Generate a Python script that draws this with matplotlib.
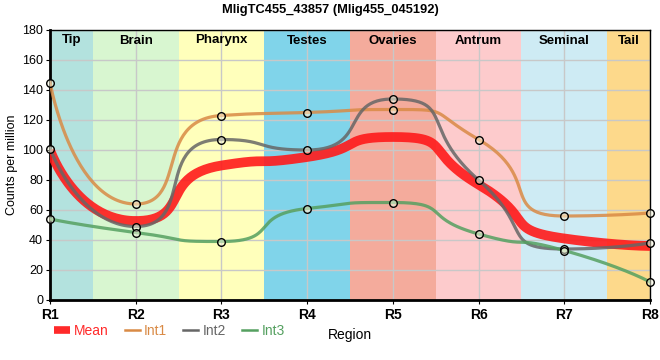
import numpy as np
import matplotlib.pyplot as plt
from matplotlib.lines import Line2D

plt.rcParams['font.family'] = ['Liberation Sans', 'DejaVu Sans']

regions = ["R1", "R2", "R3", "R4", "R5", "R6", "R7", "R8"]
int1 = [145, 64, 123, 125, 127, 107, 56, 58]
int2 = [101, 49, 107, 100, 134, 80, 34, 38]
int3 = [54, 45, 39, 61, 65, 44, 33, 12]
mean = [np.mean(v) for v in zip(int1, int2, int3)]

tissues = ["Tip", "Brain", "Pharynx", "Testes", "Ovaries", "Antrum", "Seminal", "Tail"]
tissue_colors = ["#b3e2de", "#d8f6d0", "#ffffbb", "#80d4ea", "#f4ab9c",
                 "#fdcbcc", "#ceebf4", "#fdd98b"]

# pixels per data unit, so the smoothing works in screen space
XS, YS = 600 / 7, 270 / 180


def smooth_line(xv, yv, smooth=0.68, n=60):
    px = np.asarray(xv, float) * XS
    py = np.asarray(yv, float) * YS
    m = len(px)
    segs = []
    cp0 = (px[0], py[0])
    for i in range(1, m):
        x, y = px[i], py[i]
        prx, pry = px[i - 1], py[i - 1]
        nxt = None
        if i == m - 1:
            cp1 = (x, y)
        else:
            nx, ny = px[i + 1], py[i + 1]
            vx, vy = nx - prx, ny - pry
            lp = np.hypot(x - prx, y - pry)
            ln = np.hypot(nx - x, ny - y)
            r = ln / (ln + lp)
            ncx = x + vx * smooth * r
            ncy = y + vy * smooth * r
            ncx = min(ncx, max(nx, x)); ncy = min(ncy, max(ny, y))
            ncx = max(ncx, min(nx, x)); ncy = max(ncy, min(ny, y))
            vx, vy = ncx - x, ncy - y
            c1x = x - vx * lp / ln
            c1y = y - vy * lp / ln
            c1x = min(c1x, max(prx, x)); c1y = min(c1y, max(pry, y))
            c1x = max(c1x, min(prx, x)); c1y = max(c1y, min(pry, y))
            vx, vy = x - c1x, y - c1y
            nxt = (x + vx * ln / lp, y + vy * ln / lp)
            cp1 = (c1x, c1y)
        segs.append(((prx, pry), cp0, cp1, (x, y)))
        cp0 = nxt
    t = np.linspace(0, 1, n)[:, None]
    out = []
    for p0, p1, p2, p3 in segs:
        p0, p1, p2, p3 = map(np.array, (p0, p1, p2, p3))
        out.append((1 - t) ** 3 * p0 + 3 * (1 - t) ** 2 * t * p1 + 3 * (1 - t) * t ** 2 * p2 + t ** 3 * p3)
    out = np.concatenate(out)
    return out[:, 0] / XS, out[:, 1] / YS


fig = plt.figure(figsize=(6.6, 3.6), dpi=100)
ax = fig.add_axes([50 / 660, 60 / 360, 600 / 660, 270 / 360])

x = np.arange(1, len(regions) + 1)
edges = [1, 1.5, 2.5, 3.5, 4.5, 5.5, 6.5, 7.5, 8]
for i, name in enumerate(tissues):
    ax.axvspan(edges[i], edges[i + 1], color=tissue_colors[i], lw=0, zorder=0)
    ax.text((edges[i] + edges[i + 1]) / 2, 173, name, ha="center", va="center",
            fontsize=9.5, fontweight="bold", zorder=5)

ax.grid(True, color="#c8c8c8", lw=1, zorder=1)

series = [
    (int1, "#d98a45", "Int1"),
    (int2, "#666666", "Int2"),
    (int3, "#55a060", "Int3"),
]
ax.plot(*smooth_line(x, mean), color="#ff1a1a", lw=7, alpha=0.9, zorder=3,
        solid_capstyle="butt")
for vals, col, name in series:
    ax.plot(*smooth_line(x, vals), color=col, lw=2.3, alpha=0.85, zorder=3)
for vals, col, name in series:
    ax.scatter(x, vals, s=30, facecolor=(1, 1, 0.9, 0.5), edgecolor="black",
               lw=1, zorder=4, clip_on=False)

ax.set_xlim(1, 8)
ax.set_ylim(0, 180)
ax.set_xticks(x)
ax.set_xticklabels(regions, fontsize=10, fontweight="bold")
ax.set_yticks(range(0, 181, 20))
ax.tick_params(axis="y", labelsize=9, length=3, pad=2)
ax.tick_params(axis="x", length=3, pad=3)
for side in ["top", "right"]:
    ax.spines[side].set_linewidth(1)
for side in ["left", "bottom"]:
    ax.spines[side].set_linewidth(2)

ax.set_ylabel("Counts per million", fontsize=9, labelpad=3)
ax.set_xlabel("Region", fontsize=10, labelpad=4)
ax.xaxis.set_label_coords(0.5, -0.105)
fig.suptitle("MligTC455_43857 (Mlig455_045192)", fontsize=9.3, fontweight="bold", y=0.99)

handles = [Line2D([], [], color="#ff2a2a", lw=5.5, solid_capstyle="butt")]
handles += [Line2D([], [], color=c, lw=1.8) for _, c, _ in series]
labels = ["Mean"] + [s[2] for s in series]
leg = fig.legend(handles, labels, loc="center left", bbox_to_anchor=(42 / 660, 1 - 331 / 360),
                 ncol=4, frameon=False, fontsize=10, handlelength=1.1, handletextpad=0.3,
                 columnspacing=1.15, labelcolor="linecolor")

fig.savefig("out.png", dpi=100)
